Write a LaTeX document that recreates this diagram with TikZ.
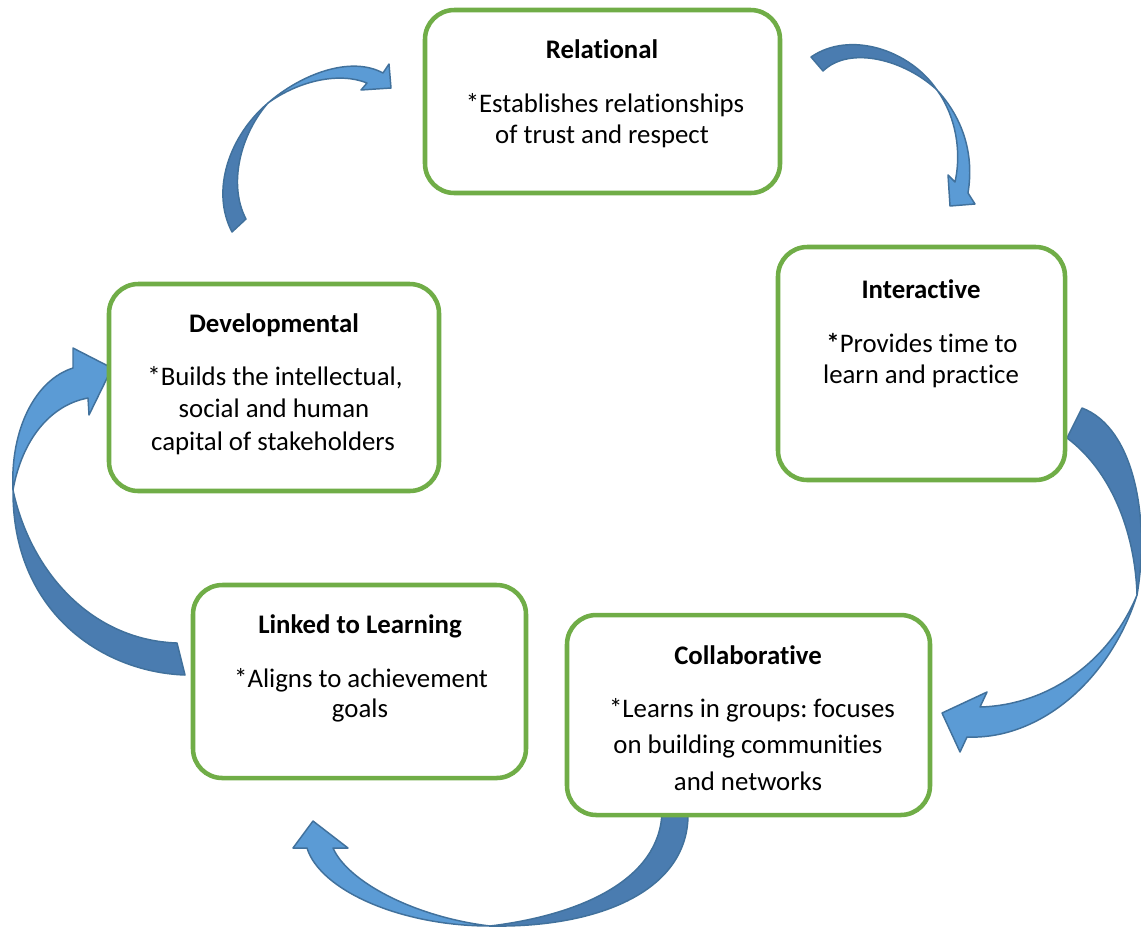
\documentclass[tikz,border=0pt]{standalone}
\usepackage{fontspec}
\setmainfont[Ligatures=NoCommon]{Carlito}
\frenchspacing
\definecolor{stagegreen}{HTML}{70AD47}
\definecolor{arrowlight}{HTML}{5B9BD5}
\definecolor{arrowdark}{HTML}{4A7CB0}
\definecolor{arrowline}{HTML}{41719C}
\begin{document}
\begin{tikzpicture}[x=0.75pt,y=-0.75pt,
  stage/.style={draw=stagegreen, line width=3.4pt, rounded corners=22pt, fill=white,
    inner sep=0pt, outer sep=0pt},
  words/.style={anchor=base, inner sep=0pt, font=\fontsize{20.1}{24}\selectfont},
  heading/.style={words, font=\fontsize{20.1}{24}\selectfont\bfseries},
  back/.style={fill=arrowdark, draw=arrowline, line width=1.1pt, line join=round},
  front/.style={fill=arrowlight, draw=arrowline, line width=1.1pt, line join=round}]
\useasboundingbox (0,0) rectangle (1141,926);

% ---- curved arrows (back face dark, front face with head light) ----
% Linked to Learning -> Developmental
\filldraw[back] (185,675) .. controls (100,672) and (12,610) .. (13,490)
  .. controls (30,570) and (90,640) .. (177,643) -- cycle;
\filldraw[front] (13,490) .. controls (10,430) and (35,380) .. (73,368)
  -- (73,348) -- (112,368) -- (89,415) -- (88,398)
  .. controls (50,405) and (22,440) .. (13,490) -- cycle;

% Developmental -> Relational
\filldraw[back] (232,232) .. controls (210,190) and (230,135) .. (268,103)
  .. controls (240,135) and (228,185) .. (246,219) -- cycle;
\filldraw[front] (268,103) .. controls (300,75) and (350,55) .. (383,73)
  -- (389,64) -- (391,88) -- (361,90) -- (367,83)
  .. controls (340,72) and (300,80) .. (268,103) -- cycle;

% Relational -> Interactive
\filldraw[back] (811,57) .. controls (850,30) and (910,50) .. (937,90)
  .. controls (905,60) and (850,45) .. (823,71) -- cycle;
\filldraw[front] (937,90) .. controls (960,115) and (975,150) .. (968,193)
  -- (975,204) -- (950,206) -- (948,175) -- (955,182)
  .. controls (962,150) and (955,115) .. (937,90) -- cycle;

% Interactive -> Collaborative
\filldraw[back] (1082,408) .. controls (1135,428) and (1150,520) .. (1137,595)
  .. controls (1135,530) and (1110,470) .. (1067,438) -- cycle;
\filldraw[front] (1137,595) .. controls (1110,680) and (1040,740) .. (967,737)
  -- (960,752) -- (942,713) -- (987,692) -- (980,707)
  .. controls (1050,705) and (1110,660) .. (1137,595) -- cycle;

% Collaborative -> Linked to Learning
\filldraw[back] (688,812) .. controls (690,890) and (600,928) .. (490,926)
  .. controls (580,915) and (660,880) .. (662,812) -- cycle;
\filldraw[front] (490,926) .. controls (400,926) and (320,890) .. (307,848)
  -- (293,848) -- (313,821) -- (348,848) -- (333,848)
  .. controls (348,882) and (415,917) .. (490,926) -- cycle;

% ---- stage boxes ----
\node[stage, minimum width=266.25pt, minimum height=137.25pt] (rel) at (602.5,101.5) {};
\node[stage, minimum width=215.25pt, minimum height=174.75pt] (int) at (921.5,363.5) {};
\node[stage, minimum width=247.5pt,  minimum height=155.25pt] (dev) at (274,387.5) {};
\node[stage, minimum width=249.75pt, minimum height=144.75pt] (lnk) at (359.5,681.5) {};
\node[stage, minimum width=272.25pt, minimum height=150pt]    (col) at (748.5,715) {};

% ---- texts ----
\node[heading] (relA) at (602,58)  {Relational};
\node[words]   (relB) at (605,112) {*Establishes relationships};
\node[words]   (relC) at (602,143) {of trust and respect};

\node[heading] (intA) at (921,298) {Interactive};
\node[words]   (intB) at (922,352) {\textbf{*}Provides time to};
\node[words]   (intC) at (921,383) {learn and practice};

\node[heading] (devA) at (274,332) {Developmental};
\node[words]   (devB) at (275,385) {*Builds the intellectual,};
\node[words]   (devC) at (274,417) {social and human};
\node[words]   (devD) at (273,450) {capital of stakeholders};

\node[heading] (lnkA) at (360,633) {Linked to Learning};
\node[words]   (lnkB) at (361,687) {*Aligns to achievement};
\node[words]   (lnkC) at (360,717) {goals};

\node[heading] (colA) at (748,664) {Collaborative};
\node[words]   (colB) at (752,717) {*Learns in groups: focuses};
\node[words]   (colC) at (748,753) {on building communities};
\node[words]   (colD) at (748,790) {and networks};
\end{tikzpicture}
\end{document}
